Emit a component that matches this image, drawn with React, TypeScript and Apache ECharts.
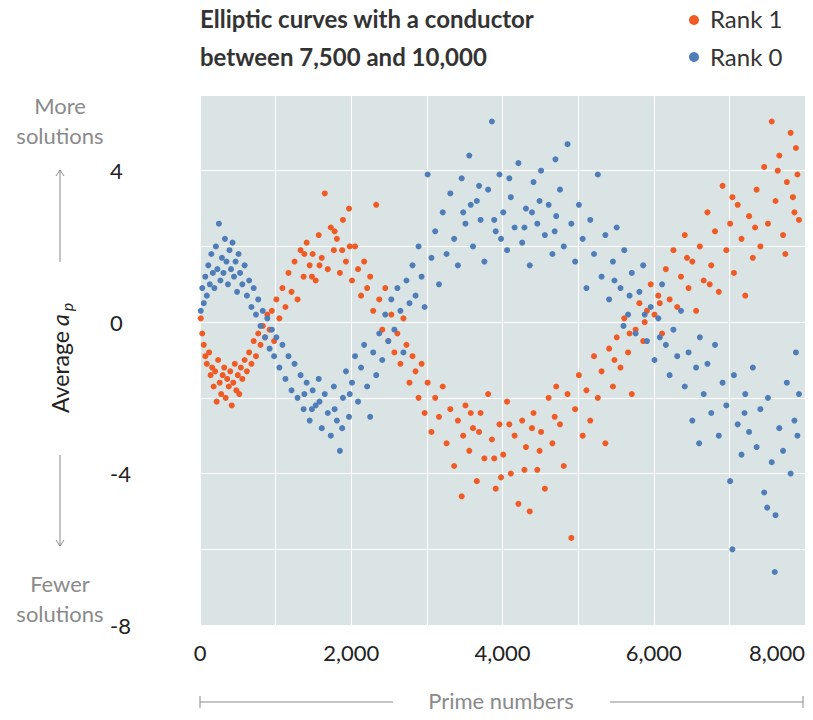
import React, { useEffect, useRef } from "react";
import * as echarts from "echarts";

const title = ["Elliptic curves with a conductor", "between 7,500 and 10,000"];
const seriesNames = ["Rank 1", "Rank 0"];
const xTicks = [0, 2000, 4000, 6000, 8000];
const yTicks = [-8, -4, 0, 4];

const rank1: number[][] = [
  [10,0.1],[30,-0.3],[50,-0.6],[70,-0.9],[90,-1.1],[120,-0.8],[140,-1.4],[160,-1.2],[180,-1.7],[200,-1.3],
  [220,-2.1],[240,-1.0],[260,-1.6],[280,-1.9],[300,-1.4],[320,-1.2],[340,-2.0],[360,-1.5],[380,-1.7],[400,-1.3],
  [420,-2.2],[440,-1.6],[460,-1.1],[480,-1.8],[500,-1.4],[520,-1.9],[540,-1.2],[560,-1.5],[590,-1.0],[620,-1.3],
  [650,-0.8],[680,-1.1],[710,-0.5],[740,-0.9],[770,-0.3],[800,-0.6],[830,-0.1],[860,-0.4],[890,0.2],[920,-0.2],
  [950,0.3],[980,-0.5],[1010,0.6],[1050,0.1],[1090,0.9],[1130,0.4],[1170,1.3],[1210,0.8],[1250,1.6],[1290,0.6],
  [1330,1.9],[1370,1.2],[1410,2.1],[1450,1.5],[1490,1.8],[1530,1.1],[1570,2.3],[1610,1.7],[1650,3.4],[1690,1.4],
  [1730,2.5],[1770,1.9],[1810,2.2],[1850,1.3],[1890,2.7],[1930,1.6],[1970,3.0],[2010,1.1],[2050,2.0],[2090,1.4],
  [2130,0.7],[2170,1.6],[2210,0.9],[2250,1.2],[2290,0.3],[2330,3.1],[2370,0.6],[2410,-0.2],[2450,0.9],[2490,-0.5],
  [2530,0.2],[2570,-0.8],[2610,-0.3],[2650,-1.1],[2690,0.1],[2730,-0.6],[2770,-1.6],[2810,-0.9],[2850,-1.3],[2890,-2.0],
  [2930,-1.1],[2970,-2.4],[3010,-1.6],[3060,-2.9],[3110,-2.0],[3160,-2.5],[3210,-1.7],[3260,-3.2],[3310,-2.3],[3360,-3.8],
  [3410,-2.6],[3460,-4.6],[3510,-2.2],[3560,-3.4],[3610,-2.8],[3660,-4.2],[3710,-2.4],[3760,-3.6],[3810,-1.9],[3860,-3.1],
  [3910,-4.4],[3960,-2.7],[4010,-3.5],[4060,-2.1],[4110,-4.0],[4160,-3.0],[4210,-4.8],[4260,-2.6],[4310,-3.3],[4360,-5.0],
  [4410,-2.4],[4460,-3.9],[4510,-2.9],[4560,-4.4],[4610,-2.0],[4660,-3.2],[4710,-1.7],[4760,-2.7],[4810,-3.8],[4860,-1.9],
  [4910,-5.7],[4960,-2.3],[5010,-1.4],[5060,-3.0],[5110,-1.8],[5160,-2.6],[5210,-0.9],[5260,-2.0],[5310,-1.3],[5360,-3.2],
  [5410,-0.7],[5460,-1.7],[5510,-0.4],[5560,-1.2],[5610,0.1],[5660,-0.8],[5710,-1.9],[5760,-0.2],[5810,0.5],[5860,-0.5],
  [5910,0.3],[5960,1.0],[6010,0.2],[6060,0.7],[6110,-0.3],[6160,1.4],[6210,0.6],[6260,1.9],[6310,0.4],[6360,1.2],
  [6410,2.3],[6460,0.9],[6510,1.6],[6560,0.3],[6610,2.0],[6660,1.1],[6710,2.9],[6760,1.5],[6810,2.4],[6860,0.8],
  [6910,3.6],[6960,1.9],[7010,2.6],[7060,1.3],[7110,3.1],[7160,2.2],[7210,0.7],[7260,2.8],[7310,1.7],[7360,3.5],
  [7410,2.0],[7460,4.1],[7510,2.6],[7560,5.3],[7610,3.2],[7660,4.4],[7710,2.3],[7760,3.7],[7810,5.0],[7860,2.9],
  [7900,3.9],[7920,2.7],[7880,4.6],[7840,3.3],[7740,1.8],[7640,4.0],[7340,2.5],[7040,3.3],[6740,1.0],[6440,1.7],
  [3480,-3.0],[3690,-2.9],[3890,-3.6],[4090,-2.7],[4290,-3.9],[4490,-3.4],[4690,-2.5],[3580,-2.4],[3980,-4.1],[4390,-2.8],
  [1380,1.8],[1580,1.5],[1780,2.4],[1980,2.0],[1480,1.2],[1880,1.9],[5480,-1.0],[5680,-0.3],[5880,0.0],[6080,0.5]
];

const rank0: number[][] = [
  [10,0.3],[30,0.9],[50,0.5],[70,1.2],[90,0.7],[110,1.5],[130,1.0],[150,1.8],[170,1.3],[190,0.9],
  [210,2.0],[230,1.4],[250,2.6],[270,1.1],[290,1.7],[310,1.3],[330,2.2],[350,1.6],[370,1.0],[390,1.9],
  [410,1.4],[430,2.1],[450,1.2],[470,1.6],[490,0.8],[510,1.8],[530,1.3],[560,1.0],[590,1.5],[620,0.7],
  [650,1.1],[680,0.4],[710,0.9],[740,0.2],[770,0.6],[800,-0.1],[830,0.3],[860,-0.4],[890,0.1],[920,-0.7],
  [950,-0.2],[980,-0.9],[1010,-0.4],[1050,-1.2],[1090,-0.6],[1130,-1.5],[1170,-0.9],[1210,-1.8],[1250,-1.1],[1290,-2.0],
  [1330,-1.4],[1370,-2.3],[1410,-1.6],[1450,-2.6],[1490,-1.8],[1530,-2.2],[1570,-1.5],[1610,-2.8],[1650,-1.9],[1690,-2.4],
  [1730,-3.0],[1770,-1.7],[1810,-2.6],[1850,-3.4],[1890,-2.0],[1930,-1.3],[1970,-2.5],[2010,-1.6],[2050,-0.9],[2090,-2.1],
  [2130,-1.2],[2170,-0.6],[2210,-1.7],[2250,-2.5],[2290,-0.8],[2330,-1.4],[2370,-0.3],[2410,-1.0],[2450,0.2],[2490,-0.5],
  [2530,0.6],[2570,-0.2],[2610,0.9],[2650,0.3],[2690,-0.8],[2730,1.1],[2770,0.5],[2810,1.5],[2850,0.7],[2890,2.0],
  [2930,1.2],[2970,0.4],[3010,3.9],[3060,1.7],[3110,2.4],[3160,1.0],[3210,2.9],[3260,1.8],[3310,3.4],[3360,2.2],
  [3410,1.5],[3460,3.8],[3510,2.6],[3560,4.4],[3610,2.0],[3660,3.2],[3710,2.7],[3760,1.6],[3810,3.5],[3860,5.3],
  [3910,2.4],[3960,3.9],[4010,2.9],[4060,1.9],[4110,3.3],[4160,2.5],[4210,4.2],[4260,2.1],[4310,3.0],[4360,1.5],
  [4410,3.7],[4460,2.6],[4510,4.0],[4560,2.3],[4610,3.1],[4660,1.8],[4710,2.8],[4760,3.5],[4810,2.0],[4860,4.7],
  [4910,2.6],[4960,1.6],[5010,3.1],[5060,2.2],[5110,0.9],[5160,2.7],[5210,1.8],[5260,3.9],[5310,1.2],[5360,2.3],
  [5410,0.6],[5460,1.6],[5510,2.5],[5560,0.9],[5610,1.9],[5660,0.2],[5710,1.3],[5760,-0.3],[5810,0.8],[5860,1.5],
  [5910,-0.5],[5960,0.4],[6010,-1.0],[6060,0.1],[6110,1.0],[6160,-0.6],[6210,-1.4],[6260,-0.2],[6310,-0.9],[6360,0.3],
  [6410,-1.7],[6460,-0.8],[6510,-2.6],[6560,-1.2],[6610,-0.4],[6660,-1.9],[6710,-1.1],[6760,-2.4],[6810,-0.6],[6860,-3.0],
  [6910,-1.6],[6960,-2.2],[7010,-4.2],[7060,-1.4],[7110,-2.7],[7160,-3.5],[7210,-1.9],[7260,-2.9],[7310,-1.2],[7360,-3.3],
  [7410,-2.3],[7460,-4.5],[7510,-2.0],[7560,-3.7],[7610,-5.1],[7660,-2.8],[7710,-3.4],[7760,-1.6],[7810,-4.0],[7860,-2.6],
  [7900,-3.0],[7920,-1.9],[7880,-0.8],[7600,-6.6],[7040,-6.0],[7500,-4.9],[7200,-2.4],[6600,-3.2],[5600,-0.1],[4700,4.3],
  [3480,2.9],[3690,3.6],[3890,2.7],[4090,3.8],[4290,2.5],[4490,3.2],[4690,2.4],[3580,3.1],[3980,2.2],[4390,2.9],
  [1380,-1.9],[1580,-2.1],[1780,-2.3],[1980,-1.9],[1480,-2.3],[1880,-2.8],[5480,1.1],[5680,0.7],[5880,0.2],[6080,-0.4]
];

export default function App() {
  const ref = useRef<HTMLDivElement>(null);
  useEffect(() => {
    const chart = echarts.init(ref.current!, undefined, { renderer: "svg" });
    const font = "Lato, 'Noto Sans', sans-serif";
    const gray = "#8a8a8a";
    chart.setOption({
      animation: false,
      textStyle: { fontFamily: font },
      grid: { left: 200, right: 8, top: 95, bottom: 95, show: true, backgroundColor: "#dbe4e4", borderWidth: 0 },
      xAxis: {
        type: "value", min: 0, max: 8000, interval: 1000,
        axisLine: { show: false }, axisTick: { show: false },
        splitLine: { lineStyle: { color: "#ffffff", width: 1 } },
        axisLabel: {
          color: "#222", fontSize: 22, margin: 16,
          formatter: (v: number) => (xTicks.includes(v) ? v.toLocaleString("en-US") : ""),
          alignMaxLabel: "right",
        },
      },
      yAxis: {
        type: "value", min: -8, max: 6, interval: 2,
        axisLine: { show: false }, axisTick: { show: false },
        splitLine: { lineStyle: { color: "#ffffff", width: 1 } },
        axisLabel: {
          color: "#222", fontSize: 22, margin: 90, align: "left",
          formatter: (v: number) => (yTicks.includes(v) ? String(v) : ""),
        },
      },
      series: [
        { name: seriesNames[0], type: "scatter", data: rank1, symbolSize: 6, itemStyle: { color: "#f05a24", opacity: 1 } },
        { name: seriesNames[1], type: "scatter", data: rank0, symbolSize: 6, itemStyle: { color: "#4f7db8", opacity: 1 } },
      ],
      graphic: [
        { type: "text", left: 200, top: 6, style: { text: title[0], font: `bold 24px ${font}`, fill: "#333" } },
        { type: "text", left: 200, top: 44, style: { text: title[1], font: `bold 24px ${font}`, fill: "#333" } },
        { type: "circle", shape: { cx: 694, cy: 20, r: 5 }, style: { fill: "#f05a24" } },
        { type: "circle", shape: { cx: 694, cy: 57, r: 5 }, style: { fill: "#4f7db8" } },
        { type: "text", left: 710, top: 6, style: { text: seriesNames[0], font: `24px ${font}`, fill: "#333" } },
        { type: "text", left: 710, top: 44, style: { text: seriesNames[1], font: `24px ${font}`, fill: "#333" } },
        { type: "text", x: 60, y: 105, style: { text: "More", font: `22px ${font}`, fill: gray, align: "center", verticalAlign: "middle" } },
        { type: "text", x: 60, y: 135, style: { text: "solutions", font: `22px ${font}`, fill: gray, align: "center", verticalAlign: "middle" } },
        { type: "text", x: 60, y: 583, style: { text: "Fewer", font: `22px ${font}`, fill: gray, align: "center", verticalAlign: "middle" } },
        { type: "text", x: 60, y: 613, style: { text: "solutions", font: `22px ${font}`, fill: gray, align: "center", verticalAlign: "middle" } },
        { type: "line", shape: { x1: 60, y1: 170, x2: 60, y2: 262 }, style: { stroke: gray, lineWidth: 1 } },
        { type: "polyline", shape: { points: [[56, 176], [60, 170], [64, 176]] }, style: { stroke: gray, fill: "none", lineWidth: 1 } },
        { type: "line", shape: { x1: 60, y1: 455, x2: 60, y2: 546 }, style: { stroke: gray, lineWidth: 1 } },
        { type: "polyline", shape: { points: [[56, 540], [60, 546], [64, 540]] }, style: { stroke: gray, fill: "none", lineWidth: 1 } },
        { type: "group", x: 60, y: 360, rotation: Math.PI / 2, children: [
          { type: "text", x: -12, y: 0, style: { text: "Average", font: `23px ${font}`, fill: "#222", align: "center", verticalAlign: "middle" } },
          { type: "text", x: 40, y: 0, style: { text: "a", font: `italic 23px ${font}`, fill: "#222", align: "center", verticalAlign: "middle" } },
          { type: "text", x: 53, y: 6, style: { text: "p", font: `italic 16px ${font}`, fill: "#222", align: "center", verticalAlign: "middle" } },
        ] },
        { type: "line", shape: { x1: 200, y1: 702, x2: 393, y2: 702 }, style: { stroke: gray, lineWidth: 1 } },
        { type: "line", shape: { x1: 200, y1: 696, x2: 200, y2: 708 }, style: { stroke: gray, lineWidth: 1 } },
        { type: "line", shape: { x1: 610, y1: 702, x2: 803, y2: 702 }, style: { stroke: gray, lineWidth: 1 } },
        { type: "line", shape: { x1: 803, y1: 696, x2: 803, y2: 708 }, style: { stroke: gray, lineWidth: 1 } },
        { type: "text", x: 501, y: 700, style: { text: "Prime numbers", font: `22px ${font}`, fill: gray, align: "center", verticalAlign: "middle" } },
      ],
    });
    return () => chart.dispose();
  }, []);
  return <div ref={ref} style={{ width: 813, height: 720, margin: -8 }} />;
}
